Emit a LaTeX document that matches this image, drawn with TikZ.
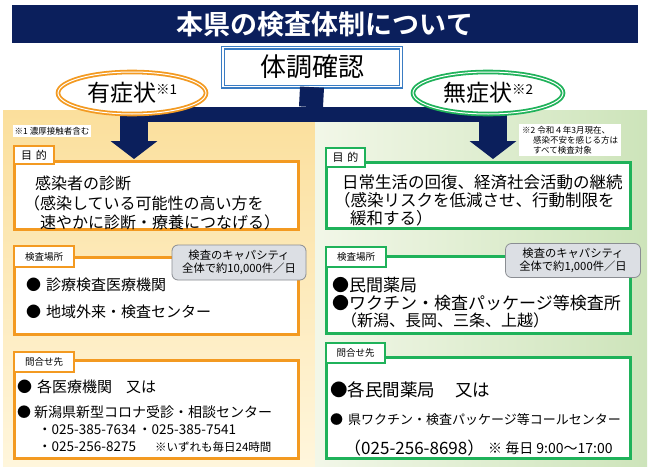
\documentclass[tikz,border=0pt]{standalone}
\usepackage{fontspec}
\setmainfont{Noto Sans CJK JP}[BoldFont=* Bold]
\usepackage{xcolor}
\definecolor{chartNavy}{HTML}{0B1F5C}
\definecolor{chartBlue}{HTML}{3A7CC3}
\definecolor{symOrange}{HTML}{F39A21}
\definecolor{symGreen}{HTML}{1FB25A}
\definecolor{capGray}{HTML}{DCDFE4}
\definecolor{capEdge}{HTML}{8A8D92}
\definecolor{panelOrangeA}{HTML}{FBDF9C}
\definecolor{panelOrangeB}{HTML}{FFF6DC}
\definecolor{panelGreenA}{HTML}{F2F7E8}
\definecolor{panelGreenB}{HTML}{CDE4BA}
\usetikzlibrary{arrows.meta,shapes.geometric}

\newcommand{\setsz}[1]{\fontsize{#1}{#1}\selectfont}

\tikzset{
  mainbox/.style={draw=#1, line width=3pt, fill=white},
  tagbox/.style={draw=#1, line width=2.6pt, fill=white},
  tagtext/.style={inner sep=0pt, font=\setsz{9.5}},
  bodytext/.style={anchor=west, inner sep=0pt},
  capbox/.style={draw=capEdge, fill=capGray, line width=0.8pt, rounded corners=6pt,
    align=center, font=\fontsize{11.3}{13.5}\selectfont, inner sep=0pt},
  symbubble/.style={ellipse, draw=#1, line width=1.8pt, double=white, double distance=1pt,
    fill=white, inner sep=0pt, font=\setsz{23}},
  trunk/.style={draw=chartNavy, line width=#1},
  bigarrow/.style={draw=chartNavy, line width=28pt, -{Triangle[width=46pt,length=18pt]}},
  footnote/.style={fill=white, font=\fontsize{8.5}{10}\selectfont}
}

\begin{document}
\begin{tikzpicture}[x=1pt, y=-1pt]
  \useasboundingbox (0,0) rectangle (650,471);
  \fill[white] (0,0) rectangle (650,471);

  % background panels
  \shade[top color=panelOrangeA, bottom color=panelOrangeB] (3,110) rectangle (315,466);
  \shade[left color=panelGreenA, right color=panelGreenB] (315,110) rectangle (647,466);

  % title
  \fill[chartNavy] (12,5) rectangle (638,43);
  \node[text=white, font=\setsz{27}\bfseries] (title) at (325,24) {本県の検査体制について};

  % check and connectors
  \node[draw=chartBlue, double=white, double distance=1.4pt, line width=1.3pt, fill=white,
    minimum width=178pt, minimum height=39pt, inner sep=0pt, font=\setsz{26}] (check) at (312,67) {体調確認};
  \coordinate (hub) at (311,107);
  \coordinate (barL) at (134,114.5);
  \coordinate (barR) at (493,114.5);
  \coordinate (armL) at (134,107);
  \coordinate (armR) at (493,107);
  \coordinate (tipL) at (134,159);
  \coordinate (tipR) at (493,159);
  \draw[trunk=24pt] (check.south) -- (hub);
  \draw[trunk=15pt] (barL) -- (barR);
  \draw[bigarrow] (armL) -- (tipL);
  \draw[bigarrow] (armR) -- (tipR);

  \node[symbubble=symOrange, minimum width=148pt, minimum height=42pt] (symL) at (132,93)
    {有症状\raisebox{7pt}{\setsz{13.5}※1}};
  \node[symbubble=symGreen, minimum width=150pt, minimum height=42pt] (symR) at (488,93)
    {無症状\raisebox{7pt}{\setsz{13.5}※2}};

  \node[footnote, inner sep=2pt] (noteL) at (52,131) {※1 濃厚接触者含む};
  \node[footnote, anchor=north west, align=left, inner xsep=3pt, inner ysep=2pt] (noteR) at (519,124)
    {※2 令和４年3月現在、\\\hspace{11pt}感染不安を感じる方は\\\hspace{11pt}すべて検査対象};

  % left: purpose
  \filldraw[mainbox=symOrange] (14,161) rectangle (298,229);
  \filldraw[tagbox=symOrange] (14,146) rectangle (54,164);
  \node[tagtext, font=\setsz{11}] (purpLTag) at (34,155) {目\hspace{4pt}的};
  \node[bodytext, align=left, font=\fontsize{16}{19.5}\selectfont] (purpLText) at (24,203)
    {\hspace{11pt}感染者の診断\\（感染している可能性の高い方を\\\hspace{16pt}速やかに診断・療養につなげる）};

  % right: purpose
  \filldraw[mainbox=symGreen] (326,162) rectangle (630,228);
  \filldraw[tagbox=symGreen] (326,148) rectangle (365,167);
  \node[tagtext, font=\setsz{11}] (purpRTag) at (345.5,157.5) {目\hspace{4pt}的};
  \node[bodytext, align=left, font=\fontsize{16.5}{18}\selectfont] (purpRText) at (334,200)
    {\hspace{8pt}日常生活の回復、経済社会活動の継続\\（感染リスクを低減させ、行動制限を\\\hspace{16pt}緩和する）};

  % left: test sites
  \filldraw[mainbox=symOrange] (14,257) rectangle (298,334);
  \filldraw[tagbox=symOrange] (14,246) rectangle (74,267);
  \node[tagtext] (siteLTag) at (44,256.5) {検査場所};
  \node[capbox, minimum width=134pt, minimum height=35pt] (capL) at (239,262.5)
    {検査のキャパシティ\\全体で約10,000件／日};
  \node[bodytext, font=\setsz{15}] (siteL1) at (26,285) {●\hspace{5pt}診療検査医療機関};
  \node[bodytext, font=\setsz{15}] (siteL2) at (26,312) {●\hspace{5pt}地域外来・検査センター};

  % right: test sites
  \filldraw[mainbox=symGreen] (326,256) rectangle (630,333);
  \filldraw[tagbox=symGreen] (326,247) rectangle (386,267);
  \node[tagtext] (siteRTag) at (356,257) {検査場所};
  \node[capbox, minimum width=135pt, minimum height=34pt] (capR) at (573,260.5)
    {検査のキャパシティ\\全体で約1,000件／日};
  \node[bodytext, font=\setsz{17}] (siteR1) at (332,285) {●民間薬局};
  \node[bodytext, font=\setsz{17}] (siteR2) at (332,303) {●ワクチン・検査パッケージ等検査所};
  \node[bodytext, font=\setsz{16}] (siteR3) at (341,320) {（新潟、長岡、三条、上越）};

  % left: contacts
  \filldraw[mainbox=symOrange] (14,360) rectangle (298,458);
  \filldraw[tagbox=symOrange] (14,352) rectangle (74,372);
  \node[tagtext] (contLTag) at (44,362) {問合せ先};
  \node[bodytext, font=\setsz{15}] (contL1) at (17,387) {●\hspace{5pt}各医療機関\hspace{14pt}又は};
  \node[bodytext, font=\setsz{14}] (contL2) at (17,412) {●\hspace{3pt}新潟県新型コロナ受診・相談センター};
  \node[bodytext, font=\setsz{13.5}] (contL3a) at (38,430) {・025-385-7634};
  \node[bodytext, font=\setsz{13.5}] (contL3b) at (138,430) {・025-385-7541};
  \node[bodytext, font=\setsz{13.5}] (contL4a) at (38,447) {・025-256-8275};
  \node[bodytext, font=\setsz{11.5}] (contL4b) at (155,447) {※いずれも毎日24時間};

  % right: contacts
  \filldraw[mainbox=symGreen] (326,357) rectangle (630,458);
  \filldraw[tagbox=symGreen] (326,343) rectangle (385,363);
  \node[tagtext] (contRTag) at (355.5,353) {問合せ先};
  \node[bodytext, font=\setsz{17.5}] (contR1) at (330,390) {●各民間薬局\hspace{20pt}又は};
  \node[bodytext, font=\setsz{13}] (contR2) at (330,420) {●\hspace{5pt}県ワクチン・検査パッケージ等コールセンター};
  \node[bodytext, font=\setsz{17}] (contR3) at (344,448) {（025-256-8698）};
  \node[bodytext, font=\setsz{14}] (contR4) at (488,448) {※ 毎日 9:00～17:00};
\end{tikzpicture}
\end{document}
